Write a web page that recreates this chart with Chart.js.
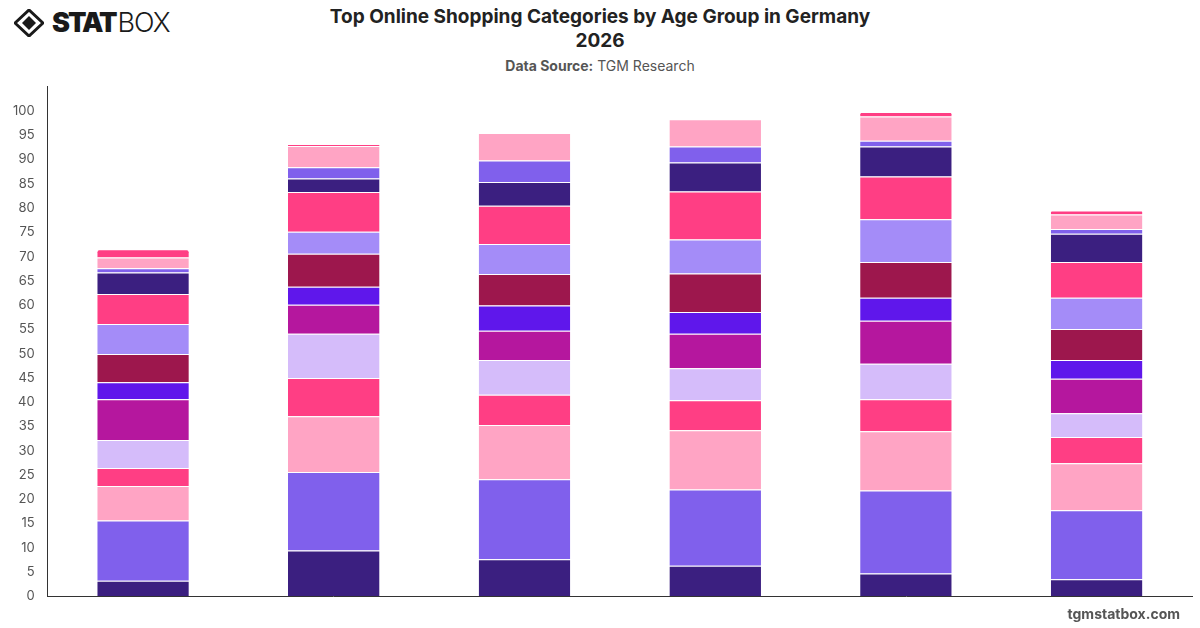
<!DOCTYPE html>
<html lang="en">
<head>
    <meta charset="UTF-8">
    <title>Top Online Shopping Categories by Age Group in Germany 2026</title>
    <script src="https://cdn.jsdelivr.net/npm/chart.js"></script>
    <style>
        * { margin: 0; padding: 0; box-sizing: border-box; }
        body {
            width: 1200px;
            height: 628px;
            background: #fff;
            font-family: 'Inter', 'Liberation Sans', sans-serif;
            position: relative;
            overflow: hidden;
        }
        .logo {
            position: absolute;
            left: 14px;
            top: 6px;
            display: flex;
            align-items: center;
        }
        .logo span { font-size: 27px; color: #1a1a1a; }
        .logo .stat { font-weight: 900; margin-left: 8px; letter-spacing: -2px; }
        .logo .box { font-weight: 300; margin-left: 2px; letter-spacing: -1px; }
        .title {
            position: absolute;
            top: 5px;
            left: 0;
            width: 1200px;
            text-align: center;
            font-size: 19px;
            font-weight: 700;
            color: #222;
            line-height: 24px;
        }
        .source {
            position: absolute;
            top: 57px;
            left: 0;
            width: 1200px;
            text-align: center;
            font-size: 14px;
            color: #555;
        }
        .source b { font-weight: 700; }
        .footer {
            position: absolute;
            right: 20px;
            top: 605px;
            font-size: 14px;
            font-weight: 700;
            color: #555;
        }
        #chartContainer {
            position: absolute;
            left: 0;
            top: 66px;
            width: 1200px;
            height: 551px;
        }
    </style>
</head>
<body>
    <div class="logo">
        <svg width="30" height="28" viewBox="0 0 30 28">
            <path d="M15 1 L29 14 L15 27 L1 14 Z" fill="none" stroke="#1a1a1a" stroke-width="3"/>
            <path d="M15 7 L22 14 L15 21 L8 14 Z" fill="#1a1a1a"/>
        </svg>
        <span class="stat">STAT</span><span class="box">BOX</span>
    </div>
    <div class="title">Top Online Shopping Categories by Age Group in Germany<br>2026</div>
    <div class="source"><b>Data Source:</b> TGM Research</div>

    <div id="chartContainer">
        <canvas id="shopChart"></canvas>
    </div>

    <div class="footer">tgmstatbox.com</div>

    <script>
        // age groups (x labels are not shown on the chart)
        const ageGroups = ['16-24', '25-34', '35-44', '45-54', '55-64', '65+'];

        // one value per category, bottom of the stack first
        const age16to24 = [3.2, 12.4, 7.1, 3.7, 5.8, 8.4, 3.5, 5.8, 6.2, 6.2, 4.4, 0.9, 2.2, 1.7];
        const age25to34 = [9.4, 16.2, 11.5, 7.9, 9.1, 6.0, 3.7, 6.8, 4.5, 8.2, 2.8, 2.3, 4.4, 0.4];
        const age35to44 = [7.6, 16.5, 11.2, 6.2, 7.2, 6.0, 5.2, 6.5, 6.2, 7.9, 4.9, 4.4, 5.7, 0];
        const age45to54 = [6.3, 15.7, 12.2, 6.2, 6.6, 7.1, 4.5, 7.9, 7.0, 9.9, 6.0, 3.3, 5.6, 0];
        const age55to64 = [4.7, 17.1, 12.2, 6.6, 7.3, 8.9, 4.7, 7.4, 8.8, 8.8, 6.2, 1.2, 5.0, 0.9];
        const age65plus = [3.5, 14.2, 9.7, 5.4, 4.9, 7.1, 3.9, 6.4, 6.4, 7.4, 5.8, 1.0, 3.0, 0.8];

        const categories = [
            'Category 1', 'Category 2', 'Category 3', 'Category 4', 'Category 5',
            'Category 6', 'Category 7', 'Category 8', 'Category 9', 'Category 10',
            'Category 11', 'Category 12', 'Category 13', 'Category 14'
        ];

        const palette = [
            '#3b1f80', '#8060ec', '#ffa4c4', '#ff3e84', '#d5bcfa',
            '#b5179e', '#5f17eb', '#9d174d', '#a48cf8', '#ff3e84'
        ];

        const rows = [age16to24, age25to34, age35to44, age45to54, age55to64, age65plus];

        var datasets = categories.map((name, i) => ({
            label: name,
            data: rows.map(r => r[i]),
            backgroundColor: palette[i % palette.length],
            borderColor: '#ffffff',
            borderWidth: { top: 1, bottom: 0, left: 0, right: 0 },
            borderRadius: i === categories.length - 1 ? 3 : 0,
            barPercentage: 0.8,
            categoryPercentage: 0.6
        }));

        var ctx = document.getElementById('shopChart').getContext('2d');
        var shopChart = new Chart(ctx, {
            type: 'bar',
            data: {
                labels: ageGroups,
                datasets: datasets
            },
            options: {
                responsive: true,
                maintainAspectRatio: false,
                animation: false,
                layout: {
                    padding: { left: 0, right: 8, top: 0, bottom: 5 }
                },
                plugins: {
                    legend: { display: false },
                    tooltip: { enabled: true }
                },
                scales: {
                    x: {
                        stacked: true,
                        grid: { display: false, drawTicks: false },
                        border: { display: true, color: '#333', width: 1 },
                        ticks: { display: false }
                    },
                    y: {
                        stacked: true,
                        min: 0,
                        max: 105,
                        grid: { display: false, drawTicks: false },
                        border: { display: true, color: '#333', width: 1 },
                        ticks: {
                            stepSize: 5,
                            padding: 13,
                            color: '#555',
                            font: { family: 'Inter', size: 13 },
                            callback: v => v > 100 ? '' : v
                        }
                    }
                }
            }
        });
    </script>
</body>
</html>
